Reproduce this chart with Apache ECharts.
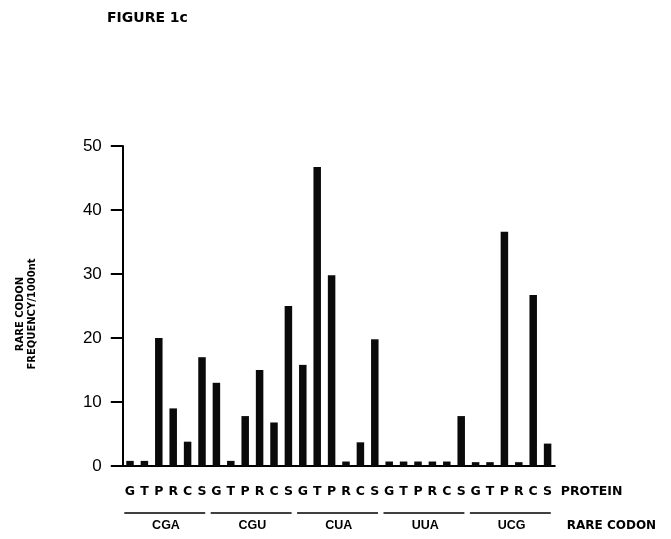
<!DOCTYPE html>
<html><head><meta charset="utf-8">
<script src="https://cdn.jsdelivr.net/npm/echarts@6/dist/echarts.min.js"></script>
<style>html,body{margin:0;padding:0;background:#fff}#c{width:671px;height:539px}</style>
</head><body><div id="c"></div>
<script>
const figureTitle = 'FIGURE 1c';
const codons = ['CGA', 'CGU', 'CUA', 'UUA', 'UCG'];
const proteins = ['G', 'T', 'P', 'R', 'C', 'S'];
const freqCGA = [0.8, 0.8, 20, 9, 3.8, 17];
const freqCGU = [13, 0.8, 7.8, 15, 6.8, 25];
const freqCUA = [15.8, 46.7, 29.8, 0.7, 3.7, 19.8];
const freqUUA = [0.7, 0.7, 0.7, 0.7, 0.7, 7.8];
const freqUCG = [0.6, 0.6, 36.6, 0.6, 26.7, 3.5];
const yTicks = [0, 10, 20, 30, 40, 50];

const groups = [freqCGA, freqCGU, freqCUA, freqUUA, freqUCG];
const cats = [], vals = [];
codons.forEach((c, gi) => proteins.forEach((p, pi) => { cats.push(c + '-' + p); vals.push(groups[gi][pi]); }));

const BOLD = 'DejaVu Sans';
const chart = echarts.init(document.getElementById('c'), null, {renderer: 'canvas'});
const hiddenLine = {show: false};
chart.setOption({
  animation: false,
  backgroundColor: '#fff',
  title: {text: figureTitle, left: 102, top: 6,
    textStyle: {fontFamily: BOLD, fontWeight: 'bold', fontSize: 14, color: '#000'}},
  grid: {left: 122.8, right: 116.2, top: 146, bottom: 73, containLabel: false},
  xAxis: [
    {type: 'category', data: cats, position: 'bottom',
      axisLine: {lineStyle: {color: '#000', width: 2}}, axisTick: {show: false},
      axisLabel: {show: false}},
    {type: 'category', data: cats, position: 'bottom', offset: 26,
      axisLine: hiddenLine, axisTick: {show: false},
      axisLabel: {interval: 0, margin: 0, verticalAlign: 'middle', color: '#000',
        fontFamily: BOLD, fontWeight: 'bold', fontSize: 12.5,
        formatter: v => v.split('-')[1]},
      name: 'PROTEIN', nameLocation: 'end', nameGap: 6,
      nameTextStyle: {fontFamily: BOLD, fontWeight: 'bold', fontSize: 12.5, color: '#000', verticalAlign: 'middle'}},
    {type: 'category', data: codons, position: 'bottom', offset: 60,
      axisLine: hiddenLine, axisTick: {show: false},
      axisLabel: {interval: 0, margin: 0, verticalAlign: 'middle', color: '#000',
        fontFamily: 'Liberation Sans', fontWeight: 'bold', fontSize: 12.5},
      name: 'RARE CODON', nameLocation: 'end', nameGap: 12,
      nameTextStyle: {fontFamily: BOLD, fontWeight: 'bold', fontSize: 12, color: '#000', verticalAlign: 'middle'}}
  ],
  yAxis: {type: 'value', min: yTicks[0], max: yTicks[yTicks.length - 1], interval: yTicks[1] - yTicks[0],
    axisLine: {show: true, lineStyle: {color: '#000', width: 2}},
    axisTick: {show: true, length: 12, lineStyle: {color: '#000', width: 2}},
    splitLine: {show: false},
    axisLabel: {margin: 21, color: '#000', fontFamily: 'Liberation Sans', fontSize: 17},
    name: 'RARE CODON\nFREQUENCY/1000nt', nameLocation: 'middle', nameRotate: 90, nameGap: 84,
    nameTextStyle: {fontFamily: BOLD, fontWeight: 'bold', fontSize: 10, lineHeight: 12, color: '#000', padding: [0, 16, 0, 0]}},
  series: [{type: 'bar', xAxisIndex: 0, yAxisIndex: 0, data: vals, barWidth: 7.5,
    itemStyle: {color: '#0a0a0a'}}]
});

// underlines below each codon group, derived from the category axis
const px = i => chart.convertToPixel({xAxisIndex: 0}, i);
const bw = px(1) - px(0);
const lines = codons.map((c, gi) => {
  const x1 = px(gi * proteins.length) - bw / 2 + 1.5;
  const x2 = px(gi * proteins.length + proteins.length - 1) + bw / 2 - 4;
  return {type: 'line', shape: {x1: x1, y1: 513, x2: x2, y2: 513}, style: {stroke: '#000', lineWidth: 1.4}};
});
chart.setOption({graphic: lines});
</script></body></html>
